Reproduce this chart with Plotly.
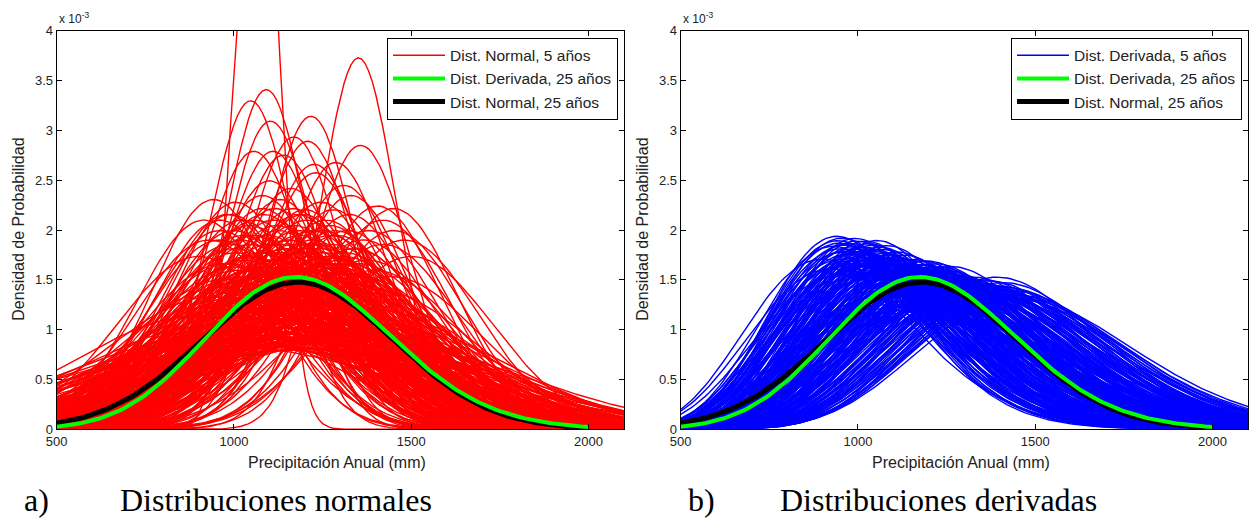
import math
import numpy as np
import plotly.graph_objects as go

# ---------------- data ----------------
X_RANGE = [500, 2100]
X_STEP = 10
X_25_RANGE = [500, 2000]

# Panel a) normal distributions, 5-year windows: mean (mm) and std (mm)
RED_MEAN = [1065, 1351, 1091, 1047, 1217, 1103, 1169, 1208, 1357, 1056, 1110, 1287, 1226, 1405, 942, 915,
            1140, 1230, 1100, 1310, 1130, 1450, 1200, 1280, 1060, 1180, 1000, 1020, 1250, 1160, 1330, 1080,
            990, 1270, 1380,
            960, 985, 1005, 1030, 1045, 1070, 1085, 1095, 1115, 1125, 1135, 1150, 1165, 1175, 1190, 1205,
            1215, 1235, 1245, 1260, 1275, 1290, 1305, 1320, 1340, 1355, 1375, 1395, 1420, 1440,
            1010, 1060, 1110, 1150, 1185, 1230, 1270, 1330, 1160, 1200,
            1050, 1090, 1130, 1170, 1210, 1250, 1100, 1140, 1190, 1240,
            975, 1025, 1075, 1120, 1180, 1220, 1265, 1310, 1350, 1400,
            900, 950, 980, 1000, 1020, 1040, 1060, 1080, 1100, 1120, 1140, 1160, 1180, 1200, 1220, 1240,
            1260, 1280, 1300, 1320, 1350, 1380, 1400,
            1050, 1090, 1130, 1170, 1210, 1250, 1290, 1030, 1070, 1110, 1150, 1190, 1230, 1270, 1310, 990,
            1010, 1130, 1260, 1330, 1200, 1100, 1180, 1240, 1160, 1300, 1080,
            930, 960, 1450, 1480, 900, 1500, 1420,
            940, 965, 995, 1015, 1035, 1055, 1075, 1095, 1105, 1125,
            1145, 1155, 1175, 1195, 1205, 1225, 1245, 1255, 1275, 1295,
            1315, 1335, 1345, 1365, 1385, 1020, 1060, 1100, 1140, 1180,
            1220, 1260, 1300, 1340, 1380, 1000, 1040, 1080, 1120, 1160,
            1200, 1240, 1280, 1320, 1360, 950, 970, 1010, 1050, 1090,
            1150, 1170, 1190, 1210, 1230, 1130, 1110, 1090, 1250, 1270,
            1290, 1060, 1040, 1320, 1000, 1185, 1195, 1205, 1215, 1175,
            1120, 1140, 1160, 1240, 1260, 1280, 1300, 1080, 1060, 1030,
            960, 980, 1000, 1020, 1040, 1060, 1080, 1100, 1120, 1140,
            1160, 1180, 1200, 1220, 1240, 1260, 1280, 1300, 1320, 1340,
            970, 990, 1010, 1030, 1050, 1070, 1090, 1110, 1130, 1150,
            1170, 1190, 1210, 1230, 1250, 1270, 1290, 1310, 1330, 1350,
            1005, 1045, 1085, 1125, 1165, 1205, 1245, 1285, 1325, 1365,
            1015, 1055, 1095, 1135, 1175, 1215, 1255, 1295, 1115, 1195]
RED_SD = [60, 107, 117, 121, 127, 129, 136, 138, 140, 143, 143, 149, 150, 178, 173, 190,
          145, 155, 160, 163, 173, 180, 181, 181, 190, 200, 200, 210, 200, 165, 170, 170,
          185, 195, 200,
          210, 240, 225, 260, 215, 245, 280, 205, 235, 265, 215, 250, 290, 225, 260, 240,
          275, 215, 295, 230, 255, 205, 270, 240, 220, 260, 235, 250, 215, 260,
          290, 300, 300, 210, 205, 250, 285, 290, 270, 300,
          230, 260, 240, 245, 220, 265, 225, 285, 235, 280,
          265, 205, 225, 255, 275, 210, 240, 225, 275, 285,
          350, 420, 480, 380, 450, 330, 400, 470, 360, 430, 320, 390, 460, 340, 410, 490,
          350, 420, 450, 370, 400, 330, 360,
          340, 310, 350, 330, 310, 370, 320, 390, 360, 410, 440, 370, 350, 390, 340, 330,
          420, 480, 440, 430, 500, 500, 320, 330, 360, 380, 330,
          210, 190, 200, 210, 230, 230, 190,
          300, 280, 310, 270, 295, 320, 285, 300, 275, 310,
          290, 320, 300, 285, 315, 295, 310, 285, 305, 295,
          280, 310, 300, 290, 310, 340, 355, 345, 365, 350,
          360, 345, 355, 365, 375, 400, 420, 440, 390, 420,
          430, 400, 460, 410, 440, 380, 440, 460, 480, 390,
          230, 215, 225, 230, 240, 225, 235, 245, 220, 230,
          240, 250, 265, 255, 245, 250, 265, 280, 255, 270,
          280, 270, 300, 270, 300, 270, 290, 300, 275, 285,
          200, 185, 220, 190, 230, 205, 180, 215, 195, 240,
          210, 185, 225, 200, 245, 190, 215, 235, 200, 220,
          240, 215, 250, 235, 205, 260, 225, 190, 250, 220,
          195, 245, 215, 255, 225, 205, 245, 230, 255, 240,
          175, 195, 185, 200, 180, 190, 175, 200, 185, 210,
          260, 250, 255, 245, 260, 250, 240, 255, 180, 185]

# Panel b) derived distributions, 5-year windows: mean (mm) and std (mm), right-skewed (gamma)
BLUE_MEAN = [985, 990, 1000, 1010, 1020, 1030, 1040, 1050, 1060, 1070, 1080, 1090, 1100, 1110, 1120,
             1000, 1025, 1055, 1085, 1115,
             1050, 1065, 1080, 1095, 1110, 1125, 1140, 1155, 1170, 1185, 1200, 1215, 1230, 1245, 1260,
             1275, 1290, 1060, 1090, 1120, 1150, 1180, 1210, 1240, 1270, 1300, 1135, 1165, 1195, 1225,
             1255, 1285, 1315, 1330, 1100, 1070, 1040, 1020, 1150, 1205,
             1320, 1340, 1360, 1380, 1400, 1420, 1440, 1460, 1480, 1350, 1390, 1430, 1470, 1500, 1370, 1410,
             1150, 1200, 1250, 1300, 1180, 1230, 1280, 1330, 1220, 1270, 1320, 1170, 1350, 1260, 1210,
             995, 1015, 1035, 1045, 1075, 1095, 1105, 1125, 1135, 1145,
             1160, 1175, 1190, 1220, 1235, 1250, 1265, 1280, 1295, 1310,
             1075, 1105, 1130, 1160, 1190, 1215, 1245, 1270, 1305, 1335,
             1345, 1365, 1385, 1405, 1425, 1450, 1470, 1490, 1355, 1395,
             1140, 1170, 1200, 1230, 1260, 1290, 1320, 1185, 1240, 1300,
             960, 990, 1020,
             980, 1005, 1030, 1060, 1090, 1120, 1150, 1010, 1045, 1075,
             1100, 1130, 1065, 1035, 1095, 1125, 1155, 1175, 1200, 1225,
             1110, 1130, 1150, 1170, 1190, 1210, 1230, 1250, 1270, 1290,
             1310, 1330, 1115, 1145, 1175, 1205, 1235, 1265, 1295, 1325,
             1085, 1065, 1045, 1025, 1055, 1125, 1165, 1195, 1225, 1255,
             1285, 1315, 1345, 1375, 1240, 1260, 1280, 1300, 1320, 1340,
             1360, 1380, 1400, 1420, 1440, 1460, 1480, 1500, 1520, 1400,
             1430, 1450, 1390, 1410, 1370, 1350, 1460, 1490, 1420, 1440]
BLUE_SD = [210, 215, 212, 220, 218, 225, 215, 228, 222, 230, 225, 232, 228, 235, 230,
           225, 232, 235, 220, 225,
           245, 255, 250, 262, 245, 258, 250, 265, 248, 260, 252, 268, 255, 262, 250,
           270, 258, 240, 238, 242, 240, 238, 245, 240, 248, 255, 270, 275, 272, 278,
           280, 275, 270, 262, 270, 265, 258, 250, 255, 262,
           280, 290, 275, 285, 270, 280, 265, 275, 290, 300, 295, 300, 285, 300, 265, 290,
           310, 320, 330, 340, 330, 345, 320, 310, 300, 305, 325, 300, 350, 350, 335,
           218, 228, 212, 230, 218, 226, 222, 236, 232, 238,
           244, 252, 246, 250, 246, 256, 244, 252, 264, 248,
           248, 252, 246, 258, 254, 258, 252, 262, 266, 272,
           280, 288, 278, 282, 292, 282, 298, 292, 268, 276,
           262, 268, 276, 284, 290, 296, 300, 290, 296, 310,
           240, 255, 265,
           222, 230, 238, 228, 240, 238, 236, 240, 242, 236,
           242, 244, 215, 222, 214, 220, 228, 232, 238, 240,
           258, 262, 270, 262, 268, 272, 266, 274, 280, 272,
           278, 284, 266, 250, 258, 250, 258, 254, 260, 266,
           260, 250, 246, 242, 262, 248, 282, 288, 290, 284,
           288, 292, 296, 300, 260, 266, 260, 270, 276, 282,
           295, 300, 296, 305, 300, 298, 305, 310, 310, 310,
           285, 292, 285, 298, 282, 288, 310, 300, 272, 288]

# 25-year curves
BLACK_MEAN, BLACK_SD = 1180, 270                          # normal
GREEN_SHAPE, GREEN_SCALE, GREEN_LOC = 100, 26.2, -1419    # derived (shifted gamma)

X_TICKS = [500, 1000, 1500, 2000]
Y_TICKS = [0, 0.5, 1, 1.5, 2, 2.5, 3, 3.5, 4]
Y_TICK_TEXT = ["0", "0.5", "1", "1.5", "2", "2.5", "3", "3.5", "4"]

SCALE = 1e3  # densities shown in units of 10^-3


def normal_pdf(x, m, s):
    return np.exp(-0.5 * ((x - m) / s) ** 2) / (s * math.sqrt(2 * math.pi))


def gamma_pdf(x, k, theta, loc=0.0):
    z = x - loc
    return np.exp((k - 1) * np.log(z) - z / theta - math.lgamma(k) - k * math.log(theta))


def gamma_from_moments(x, m, s):
    k = (m / s) ** 2
    theta = s * s / m
    return gamma_pdf(x, k, theta)


x = np.arange(X_RANGE[0], X_RANGE[1] + X_STEP, X_STEP, dtype=float)
x25 = np.arange(X_25_RANGE[0], X_25_RANGE[1] + X_STEP, X_STEP, dtype=float)

THIN = 1.4
fig = go.Figure()

# ---- panel a ----
for i, (m, s) in enumerate(zip(RED_MEAN, RED_SD)):
    fig.add_trace(go.Scatter(x=x, y=normal_pdf(x, m, s) * SCALE, mode="lines",
                             line=dict(color="#ff0000", width=THIN),
                             name="Dist. Normal, 5 años", legend="legend", legendrank=1,
                             showlegend=(i == 0), hoverinfo="skip", xaxis="x", yaxis="y"))
fig.add_trace(go.Scatter(x=x25, y=normal_pdf(x25, BLACK_MEAN, BLACK_SD) * SCALE, mode="lines",
                         line=dict(color="#000000", width=5), name="Dist. Normal, 25 años",
                         legend="legend", legendrank=3, hoverinfo="skip", xaxis="x", yaxis="y"))
fig.add_trace(go.Scatter(x=x25, y=gamma_pdf(x25, GREEN_SHAPE, GREEN_SCALE, GREEN_LOC) * SCALE,
                         mode="lines", line=dict(color="#00ff00", width=4),
                         name="Dist. Derivada, 25 años", legend="legend", legendrank=2,
                         hoverinfo="skip", xaxis="x", yaxis="y"))

# ---- panel b ----
for i, (m, s) in enumerate(zip(BLUE_MEAN, BLUE_SD)):
    fig.add_trace(go.Scatter(x=x, y=gamma_from_moments(x, m, s) * SCALE, mode="lines",
                             line=dict(color="#0000ff", width=THIN),
                             name="Dist. Derivada, 5 años", legend="legend2", legendrank=1,
                             showlegend=(i == 0), hoverinfo="skip", xaxis="x2", yaxis="y2"))
fig.add_trace(go.Scatter(x=x25, y=normal_pdf(x25, BLACK_MEAN, BLACK_SD) * SCALE, mode="lines",
                         line=dict(color="#000000", width=5), name="Dist. Normal, 25 años",
                         legend="legend2", legendrank=3, hoverinfo="skip", xaxis="x2", yaxis="y2"))
fig.add_trace(go.Scatter(x=x25, y=gamma_pdf(x25, GREEN_SHAPE, GREEN_SCALE, GREEN_LOC) * SCALE,
                         mode="lines", line=dict(color="#00ff00", width=4),
                         name="Dist. Derivada, 25 años", legend="legend2", legendrank=2,
                         hoverinfo="skip", xaxis="x2", yaxis="y2"))

W, H = 1249, 518
FONT = "Liberation Sans, Arial, sans-serif"
SERIF = "Liberation Serif, Times New Roman, serif"
TXT = "#222222"


def px_x(p):
    return p / W


def px_y(p):
    return 1 - p / H


axis_common = dict(showline=True, linecolor="#000000", linewidth=1, mirror="ticks",
                   ticks="inside", ticklen=5, tickcolor="#000000", showgrid=False, zeroline=False,
                   automargin=False, tickfont=dict(family=FONT, size=13, color=TXT))

xa = dict(axis_common, range=X_RANGE, tickvals=X_TICKS, ticktext=[str(v) for v in X_TICKS])
ya = dict(axis_common, range=[0, 4], tickvals=Y_TICKS, ticktext=Y_TICK_TEXT)

ydom = [px_y(429.3), px_y(30.7)]
legend_common = dict(yanchor="top", xanchor="right", bgcolor="white", bordercolor="#000000",
                     borderwidth=1, font=dict(family=FONT, size=15.5, color=TXT), tracegroupgap=0,
                     itemwidth=52, itemclick=False, itemdoubleclick=False)
fig.update_layout(
    width=W, height=H, margin=dict(l=0, r=0, t=0, b=0, autoexpand=False),
    paper_bgcolor="white", plot_bgcolor="white",
    xaxis=dict(xa, domain=[px_x(56.7), px_x(624)], anchor="y"),
    yaxis=dict(ya, domain=ydom, anchor="x"),
    xaxis2=dict(xa, domain=[px_x(680.7), px_x(1248)], anchor="y2"),
    yaxis2=dict(ya, domain=ydom, anchor="x2"),
    legend=dict(legend_common, x=px_x(618), y=px_y(37.7)),
    legend2=dict(legend_common, x=px_x(1242), y=px_y(37.7)),
    showlegend=True,
)

ann = []
for left, right, cap_lab, cap_txt, lab_x, cap_x in [
        (56.7, 624, "a)", "Distribuciones normales", 22, 118),
        (680.7, 1248, "b)", "Distribuciones derivadas", 686, 778)]:
    ann.append(dict(x=px_x((left + right) / 2 - 3), y=px_y(462), xref="paper", yref="paper",
                    text="Precipitación Anual (mm)", showarrow=False, xanchor="center",
                    yanchor="middle", font=dict(family=FONT, size=16, color=TXT)))
    ann.append(dict(x=px_x(left - 39), y=px_y(229), xref="paper", yref="paper",
                    text="Densidad de Probabilidad", showarrow=False, textangle=-90,
                    xanchor="center", yanchor="middle", font=dict(family=FONT, size=16, color=TXT)))
    ann.append(dict(x=px_x(left), y=px_y(18), xref="paper", yref="paper",
                    text="x 10<sup>-3</sup>", showarrow=False, xanchor="left", yanchor="middle",
                    font=dict(family=FONT, size=12, color=TXT)))
    ann.append(dict(x=px_x(lab_x), y=px_y(500), xref="paper", yref="paper", text=cap_lab,
                    showarrow=False, xanchor="left", yanchor="middle",
                    font=dict(family=SERIF, size=32, color="#000000")))
    ann.append(dict(x=px_x(cap_x), y=px_y(500), xref="paper", yref="paper", text=cap_txt,
                    showarrow=False, xanchor="left", yanchor="middle",
                    font=dict(family=SERIF, size=32, color="#000000")))
fig.update_layout(annotations=ann)

fig.write_html("out.html", config={"displayModeBar": False},
               post_script="document.body.style.margin='0px';document.body.style.overflow='hidden';")
